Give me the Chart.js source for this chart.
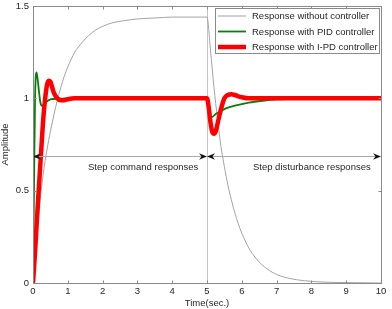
<!DOCTYPE html>
<html>
<head>
<meta charset="utf-8">
<script src="https://cdn.jsdelivr.net/npm/chart.js@4.4.0/dist/chart.umd.min.js"></script>
<style>
  html, body { margin: 0; padding: 0; background: #fff; }
  #wrap { width: 392px; height: 309px; position: relative; }
</style>
</head>
<body>
<div id="wrap"><canvas id="chart_stepResponses"></canvas></div>
<script>
// values
var timeNoCtrl = [0, 0.1, 0.2, 0.3, 0.4, 0.5, 0.6, 0.7, 0.8, 0.9, 1.0, 1.2, 1.4, 1.6, 1.8, 2.0, 2.3, 2.6, 3.0, 3.5, 4.0, 5.0,
                  5.1, 5.2, 5.3, 5.4, 5.5, 5.6, 5.7, 5.8, 5.9, 6.0, 6.2, 6.4, 6.6, 6.8, 7.0, 7.3, 7.6, 8.0, 8.5, 9.0, 10];
var ampNoCtrl  = [0, 0.24, 0.44, 0.60, 0.72, 0.82, 0.91, 0.99, 1.06, 1.12, 1.17, 1.25, 1.30, 1.34, 1.37, 1.39, 1.41, 1.42, 1.43, 1.435, 1.44, 1.44,
                  1.26, 1.06, 0.89, 0.74, 0.63, 0.53, 0.45, 0.38, 0.32, 0.27, 0.19, 0.135, 0.095, 0.067, 0.046, 0.028, 0.017, 0.009, 0.004, 0.002, 0];

var timePid = [0, 0.02, 0.04, 0.06, 0.08, 0.1, 0.13, 0.17, 0.21, 0.25, 0.3, 0.38, 0.5, 0.7, 1.0, 5.0,
               5.05, 5.1, 5.15, 5.25, 5.4, 5.6, 5.9, 6.2, 6.6, 7.0, 7.5, 8.0, 10];
var ampPid  = [0, 0.35, 0.72, 1.0, 1.12, 1.14, 1.11, 1.04, 0.98, 0.96, 0.965, 0.98, 0.995, 0.998, 1.0, 1.0,
               0.94, 0.905, 0.9, 0.915, 0.932, 0.95, 0.965, 0.977, 0.987, 0.994, 0.998, 1.0, 1.0];

var timeIpd = [0, 0.05, 0.1, 0.15, 0.2, 0.25, 0.3, 0.35, 0.4, 0.45, 0.5, 0.55, 0.6, 0.7, 0.8, 0.9, 1.0, 1.2, 5.0,
               5.05, 5.1, 5.15, 5.2, 5.25, 5.3, 5.4, 5.5, 5.6, 5.7, 5.8, 5.9, 6.0, 6.2, 6.5, 10];
var ampIpd  = [0, 0.14, 0.3, 0.46, 0.61, 0.76, 0.9, 1.0, 1.07, 1.095, 1.09, 1.06, 1.03, 1.0, 0.99, 0.99, 0.995, 1.0, 1.0,
               0.95, 0.87, 0.82, 0.808, 0.82, 0.86, 0.94, 1.0, 1.018, 1.022, 1.018, 1.011, 1.006, 1.0, 1.0, 1.0];

var seriesLabels = ['Response without controller', 'Response with PID controller', 'Response with I-PD controller'];
var xTicks = [0, 1, 2, 3, 4, 5, 6, 7, 8, 9, 10];
var yTicks = [0, 0.5, 1, 1.5];

var dividerTime = 5;
var arrowLevel = 0.69;
var arrowSpans = [[0, 5], [5, 10]];
var regionTexts = ['Step command responses', 'Step disturbance responses'];
var regionTextX = [1.58, 6.32];
var regionTextY = 0.61;

var FONT = { family: '"Liberation Sans", Arial, sans-serif', size: 9.5 };
var TEXT_COLOR = '#262626';
var AXIS_COLOR = '#8a8a8a';

function toPoints(ts, vs) {
  return ts.map(function (t, i) { return { x: t, y: vs[i] }; });
}

function arrowHead(ctx, tipX, y, dir) {
  // dir = -1 points left, +1 points right
  var len = 8, half = 3.2, notch = 2.5;
  ctx.beginPath();
  ctx.moveTo(tipX, y);
  ctx.lineTo(tipX - dir * len, y - half);
  ctx.lineTo(tipX - dir * (len - notch), y);
  ctx.lineTo(tipX - dir * len, y + half);
  ctx.closePath();
  ctx.fill();
}

var matlabAxes = {
  id: 'matlabAxes',
  beforeDatasetsDraw: function (chart) {
    var ctx = chart.ctx, a = chart.chartArea, xs = chart.scales.x;
    var px = Math.round(xs.getPixelForValue(dividerTime)) + 0.5;
    ctx.save();
    ctx.strokeStyle = '#c4c4c4';
    ctx.lineWidth = 1;
    ctx.beginPath();
    ctx.moveTo(px, a.top);
    ctx.lineTo(px, a.bottom);
    ctx.stroke();
    ctx.restore();
  },
  afterDatasetsDraw: function (chart) {
    var ctx = chart.ctx, a = chart.chartArea, xs = chart.scales.x, ys = chart.scales.y;
    ctx.save();

    // arrows
    var ay = Math.round(ys.getPixelForValue(arrowLevel)) + 0.5;
    arrowSpans.forEach(function (sp) {
      var x0 = xs.getPixelForValue(sp[0]), x1 = xs.getPixelForValue(sp[1]);
      ctx.strokeStyle = '#a8a8a8';
      ctx.lineWidth = 1;
      ctx.beginPath();
      ctx.moveTo(x0 + 4, ay);
      ctx.lineTo(x1 - 4, ay);
      ctx.stroke();
      ctx.fillStyle = '#111';
      arrowHead(ctx, x0, ay, -1);
      arrowHead(ctx, x1, ay, 1);
    });

    // region texts
    ctx.fillStyle = TEXT_COLOR;
    ctx.font = FONT.size + 'px ' + FONT.family;
    ctx.textBaseline = 'alphabetic';
    ctx.textAlign = 'left';
    regionTexts.forEach(function (t, i) {
      ctx.fillText(t, xs.getPixelForValue(regionTextX[i]), ys.getPixelForValue(regionTextY));
    });

    // axes box
    var L = Math.round(a.left) + 0.5, R = Math.round(a.right) + 0.5;
    var T = Math.round(a.top) + 0.5, B = Math.round(a.bottom) + 0.5;
    ctx.strokeStyle = AXIS_COLOR;
    ctx.lineWidth = 1;
    ctx.strokeRect(L, T, R - L, B - T);

    // inside ticks on all four sides
    var tl = 3;
    ctx.beginPath();
    xTicks.forEach(function (v) {
      var p = Math.round(xs.getPixelForValue(v)) + 0.5;
      ctx.moveTo(p, B); ctx.lineTo(p, B - tl);
      ctx.moveTo(p, T); ctx.lineTo(p, T + tl);
    });
    yTicks.forEach(function (v) {
      var p = Math.round(ys.getPixelForValue(v)) + 0.5;
      ctx.moveTo(L, p); ctx.lineTo(L + tl, p);
      ctx.moveTo(R, p); ctx.lineTo(R - tl, p);
    });
    ctx.stroke();

    // legend
    var lx = 215.5, ly = 8.5, lw = 164, lh = 45;
    ctx.fillStyle = '#fff';
    ctx.fillRect(lx, ly, lw, lh);
    ctx.strokeStyle = AXIS_COLOR;
    ctx.strokeRect(lx, ly, lw, lh);
    var rows = [16, 31.5, 47];
    chart.data.datasets.forEach(function (ds, i) {
      ctx.strokeStyle = ds.borderColor;
      ctx.lineWidth = ds.borderWidth;
      ctx.lineCap = 'butt';
      ctx.beginPath();
      ctx.moveTo(218, rows[i]);
      ctx.lineTo(246, rows[i]);
      ctx.stroke();
      ctx.fillStyle = TEXT_COLOR;
      ctx.textBaseline = 'middle';
      ctx.fillText(ds.label, 252, rows[i] + 0.5);
    });

    ctx.restore();
  }
};

var chart_stepResponses = new Chart(document.getElementById('chart_stepResponses'), {
  type: 'line',
  data: {
    datasets: [
      { label: seriesLabels[0], data: toPoints(timeNoCtrl, ampNoCtrl), borderColor: '#a3a3a3', borderWidth: 1, order: 3 },
      { label: seriesLabels[1], data: toPoints(timePid, ampPid), borderColor: '#0b7d0b', borderWidth: 1.8, order: 2 },
      { label: seriesLabels[2], data: toPoints(timeIpd, ampIpd), borderColor: '#ff0000', borderWidth: 4.5, order: 1 }
    ]
  },
  options: {
    animation: false,
    responsive: true,
    maintainAspectRatio: false,
    layout: { padding: { top: 6, right: 11, left: 0, bottom: 0 } },
    elements: {
      point: { radius: 0 },
      line: { cubicInterpolationMode: 'monotone', borderJoinStyle: 'round', fill: false }
    },
    plugins: {
      legend: { display: false },
      tooltip: { enabled: false }
    },
    scales: {
      x: {
        type: 'linear',
        min: 0,
        max: 10,
        afterBuildTicks: function (s) { s.ticks = xTicks.map(function (v) { return { value: v }; }); },
        afterFit: function (s) { s.height = 26; s.paddingLeft = 0; s.paddingRight = 0; },
        grid: { display: false, drawTicks: false },
        border: { display: false },
        ticks: { padding: 3, color: TEXT_COLOR, font: FONT, maxRotation: 0,
                 callback: function (v) { return String(v); } },
        title: { display: true, text: 'Time(sec.)', color: TEXT_COLOR, font: FONT, padding: { top: 0, bottom: 0 } }
      },
      y: {
        type: 'linear',
        min: 0,
        max: 1.5,
        afterBuildTicks: function (s) { s.ticks = yTicks.map(function (v) { return { value: v }; }); },
        afterFit: function (s) { s.width = 33; s.paddingTop = 0; s.paddingBottom = 0; },
        grid: { display: false, drawTicks: false },
        border: { display: false },
        ticks: { padding: 4, color: TEXT_COLOR, font: FONT,
                 callback: function (v) { return String(v); } },
        title: { display: true, text: 'Amplitude', color: TEXT_COLOR, font: FONT, padding: { top: 0, bottom: 0 } }
      }
    }
  },
  plugins: [matlabAxes]
});
</script>
</body>
</html>
